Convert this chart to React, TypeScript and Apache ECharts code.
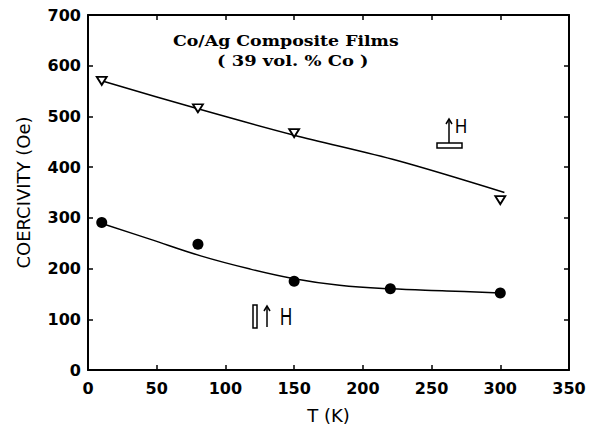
import React, { useEffect, useRef } from "react";
import * as echarts from "echarts";

// Measured points
const tempsUpper = [10, 80, 150, 300];
const coercUpper = [570, 516, 467, 335];
const tempsLower = [10, 80, 150, 220, 300];
const coercLower = [291, 248, 175, 160, 152];

// Hand-drawn guide curves
const fitUpperT = [8, 80, 150, 225, 303];
const fitUpperC = [572, 515, 463, 413, 350];
const fitLowerT = [9, 45, 82, 118, 150, 183, 220, 261, 300];
const fitLowerC = [290, 258, 225, 199, 180, 167, 160, 156, 152];

const xTicks = { min: 0, max: 350, interval: 50 };
const yTicks = { min: 0, max: 700, interval: 100 };

const titleLine1 = "Co/Ag Composite Films";
const titleLine2 = "( 39 vol. % Co )";

export default function App() {
  const ref = useRef<HTMLDivElement>(null);
  useEffect(() => {
    if (!ref.current) return;
    const chart = echarts.init(ref.current, null, { renderer: "svg" });
    const zip = (a: number[], b: number[]) => a.map((v, i) => [v, b[i]]);
    const axisLine = { show: true, onZero: false, lineStyle: { color: "#000", width: 2 } };
    const tick = { show: true, inside: true, length: 5, lineStyle: { color: "#000", width: 1.5 } };
    const labelFont = { color: "#000", fontFamily: "DejaVu Sans", fontWeight: "bold" as const, fontSize: 16 };
    chart.setOption({
      animation: false,
      backgroundColor: "#fff",
      grid: { left: 88, top: 15, right: 27, bottom: 58 },
      xAxis: [
        {
          type: "value", ...xTicks, position: "bottom",
          axisLine, axisTick: tick, splitLine: { show: false },
          axisLabel: { ...labelFont, margin: 10 },
          name: "T (K)", nameLocation: "middle", nameGap: 36,
          nameTextStyle: { color: "#000", fontFamily: "DejaVu Sans", fontSize: 18 },
        },
        {
          type: "value", ...xTicks, position: "top",
          axisLine, axisTick: tick, splitLine: { show: false }, axisLabel: { show: false },
        },
      ],
      yAxis: [
        {
          type: "value", ...yTicks, position: "left",
          axisLine, axisTick: tick, splitLine: { show: false },
          axisLabel: { ...labelFont, margin: 7 },
          name: "COERCIVITY (Oe)", nameLocation: "middle", nameGap: 56,
          nameTextStyle: { color: "#000", fontFamily: "DejaVu Sans", fontSize: 18 },
        },
        {
          type: "value", ...yTicks, position: "right",
          axisLine, axisTick: tick, splitLine: { show: false }, axisLabel: { show: false },
        },
      ],
      series: [
        {
          type: "line", data: zip(fitUpperT, fitUpperC), smooth: 0.3, symbol: "none",
          lineStyle: { color: "#000", width: 1.5 }, silent: true,
        },
        {
          type: "line", data: zip(fitLowerT, fitLowerC), smooth: 0.4, symbol: "none",
          lineStyle: { color: "#000", width: 1.5 }, silent: true,
        },
        {
          type: "scatter", data: zip(tempsUpper, coercUpper), symbol: "triangle",
          symbolRotate: 180, symbolSize: [10, 8],
          itemStyle: { color: "#fff", borderColor: "#000", borderWidth: 1.8, opacity: 1 }, z: 5,
        },
        {
          type: "scatter", data: zip(tempsLower, coercLower), symbol: "circle",
          symbolSize: 11, itemStyle: { color: "#000", opacity: 1 }, z: 5,
        },
      ],
      graphic: [
        {
          type: "text", x: 173, y: 41, scaleX: 1.24,
          style: { text: titleLine1, fill: "#000", font: "bold 14px 'DejaVu Serif'", textAlign: "left", textVerticalAlign: "middle" },
        },
        {
          type: "text", x: 217, y: 61, scaleX: 1.28,
          style: { text: titleLine2, fill: "#000", font: "bold 14px 'DejaVu Serif'", textAlign: "left", textVerticalAlign: "middle" },
        },
        // in-plane field symbol
        { type: "rect", shape: { x: 437, y: 143, width: 25, height: 5 }, style: { fill: "#fff", stroke: "#000", lineWidth: 1.5 } },
        { type: "line", shape: { x1: 449, y1: 143, x2: 449, y2: 120 }, style: { stroke: "#000", lineWidth: 1.5 } },
        { type: "polyline", shape: { points: [[446, 124], [449, 119], [452, 124]] }, style: { stroke: "#000", lineWidth: 1.5, fill: null } },
        {
          type: "text", x: 455, y: 126, scaleX: 0.8,
          style: { text: "H", fill: "#000", font: "21px 'Liberation Sans'", textAlign: "left", textVerticalAlign: "middle" },
        },
        // perpendicular field symbol
        { type: "rect", shape: { x: 253, y: 305, width: 4, height: 23 }, style: { fill: "#fff", stroke: "#000", lineWidth: 1.5 } },
        { type: "line", shape: { x1: 267, y1: 327, x2: 267, y2: 307 }, style: { stroke: "#000", lineWidth: 1.5 } },
        { type: "polyline", shape: { points: [[264, 311], [267, 306], [270, 311]] }, style: { stroke: "#000", lineWidth: 1.5, fill: null } },
        {
          type: "text", x: 280, y: 316, scaleX: 0.7,
          style: { text: "H", fill: "#000", font: "24px 'Liberation Sans'", textAlign: "left", textVerticalAlign: "middle" },
        },
      ],
    });
    return () => chart.dispose();
  }, []);
  return (
    <div
      ref={ref}
      style={{ position: "fixed", left: 0, top: 0, width: 596, height: 429, background: "#fff" }}
    />
  );
}
